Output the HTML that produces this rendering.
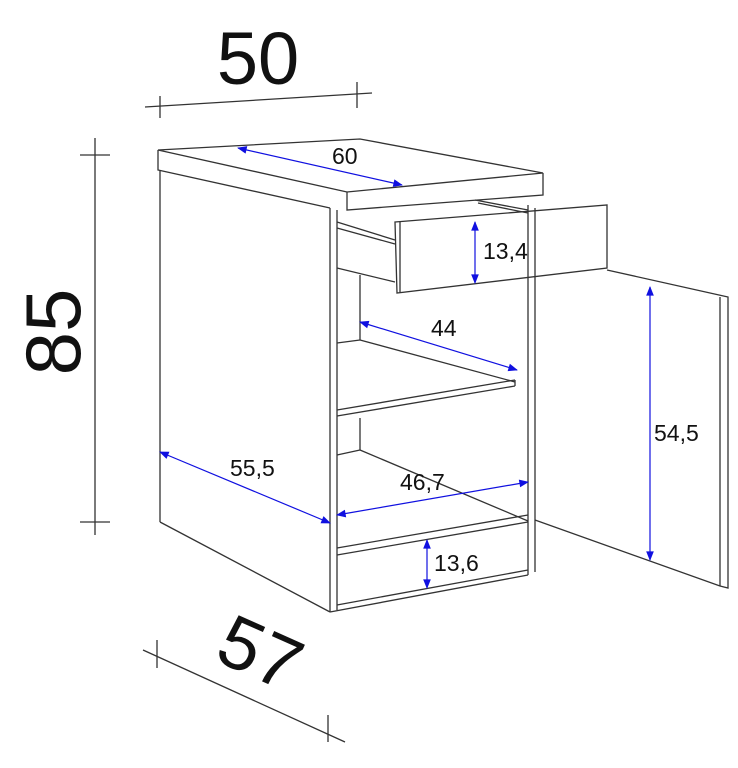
<!DOCTYPE html>
<html><head><style>body{margin:0;background:#fff}svg{display:block}text{font-family:"Liberation Sans",sans-serif;fill:#111}</style></head><body>
<svg width="738" height="768" viewBox="0 0 738 768" xmlns="http://www.w3.org/2000/svg">
<defs><marker id="a" viewBox="0 0 10 10" refX="9" refY="5" markerWidth="10" markerHeight="8" orient="auto-start-reverse"><path d="M0,1L10,5L0,9z" fill="#1010e0"/></marker></defs>
<g stroke="#333" stroke-width="1.3" fill="none">
<line x1="145" y1="107" x2="372" y2="93"/><line x1="160" y1="96" x2="160" y2="118"/><line x1="357" y1="82" x2="357" y2="108"/>
<line x1="95" y1="138" x2="95" y2="535"/><line x1="80" y1="155" x2="110" y2="155"/><line x1="80" y1="522" x2="110" y2="522"/>
<line x1="143" y1="650" x2="345" y2="742"/><line x1="157" y1="640" x2="157" y2="668"/><line x1="328" y1="715" x2="328" y2="742"/>
<polygon points="158,150 360,139 543,173 347,192"/>
<polyline points="158,150 158,170 330,208"/>
<polyline points="347,192 347,210 543,195 543,173"/>
<line x1="160" y1="170" x2="160" y2="522"/>
<line x1="160" y1="522" x2="330" y2="612"/>
<line x1="330" y1="208" x2="330" y2="612"/><line x1="337" y1="210" x2="337" y2="610"/>
<line x1="330" y1="612" x2="528" y2="575"/><line x1="337" y1="605" x2="528" y2="570"/>
<line x1="528" y1="205" x2="528" y2="575"/><line x1="535" y1="208" x2="535" y2="572"/>
<polygon points="395,222 607,205 607,268 397,293"/>
<line x1="400" y1="222" x2="400" y2="292"/>
<polyline points="337,222 395,240"/><polyline points="337,228 395,244"/>
<polyline points="337,268 395,282"/>
<line x1="475" y1="200" x2="528" y2="210"/><line x1="478" y1="203" x2="528" y2="213"/>
<line x1="360" y1="275" x2="360" y2="340"/>
<line x1="337" y1="343" x2="360" y2="340"/>
<line x1="360" y1="340" x2="515" y2="382"/>
<line x1="337" y1="410" x2="515" y2="380"/><line x1="337" y1="416" x2="515" y2="386"/>
<line x1="515" y1="380" x2="515" y2="386"/>
<line x1="360" y1="418" x2="360" y2="450"/>
<line x1="337" y1="455" x2="360" y2="450"/>
<line x1="360" y1="450" x2="528" y2="521"/>
<line x1="337" y1="548" x2="528" y2="515"/><line x1="337" y1="555" x2="528" y2="522"/>
<polyline points="607,270 728,297 728,588 720,586 535,520"/>
<line x1="720" y1="297" x2="720" y2="586"/>
</g>
<g stroke="#1010e0" stroke-width="1.2" marker-start="url(#a)" marker-end="url(#a)">
<line x1="238" y1="148" x2="402" y2="185"/>
<line x1="475" y1="222" x2="475" y2="283"/>
<line x1="360" y1="322" x2="517" y2="370"/>
<line x1="160" y1="452" x2="330" y2="523"/>
<line x1="337" y1="515" x2="528" y2="482"/>
<line x1="427" y1="540" x2="427" y2="588"/>
<line x1="650" y1="287" x2="650" y2="560"/>
</g>
<text x="258" y="84" font-size="74" text-anchor="middle">50</text>
<text transform="translate(80,332) rotate(-90)" font-size="78" text-anchor="middle">85</text>
<text transform="translate(250,676) rotate(24)" font-size="74" text-anchor="middle">57</text>
<g font-size="23">
<text x="332" y="164">60</text>
<text x="483" y="259">13,4</text>
<text x="431" y="336">44</text>
<text x="230" y="476">55,5</text>
<text x="400" y="490">46,7</text>
<text x="434" y="571">13,6</text>
<text x="654" y="441">54,5</text>
</g>
</svg>
</body></html>
